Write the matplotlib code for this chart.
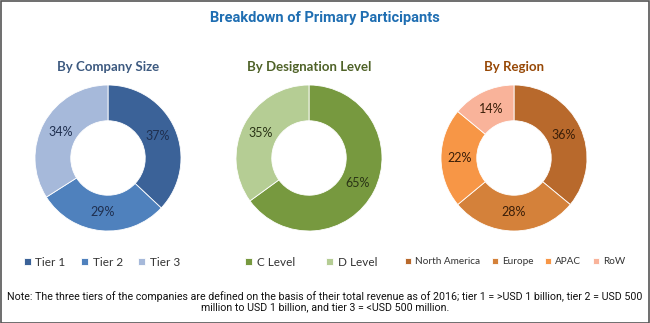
import numpy as np
import matplotlib.pyplot as plt
from matplotlib.patches import Rectangle

# data
size_labels = ['Tier 1', 'Tier 2', 'Tier 3']
size_values = [37, 29, 34]
size_colors = ['#3B6298', '#4F81BD', '#A6B9DA']

level_labels = ['C Level', 'D Level']
level_values = [65, 35]
level_colors = ['#77993F', '#B5CD94']

region_labels = ['North America', 'Europe', 'APAC', 'RoW']
region_values = [36, 28, 22, 14]
region_colors = ['#B8692C', '#D4813A', '#F79646', '#F9B39A']

W, H = 650, 323
fig = plt.figure(figsize=(W / 100, H / 100), dpi=100)
fig.patch.set_facecolor('white')

# thin border round the picture
fig.add_artist(Rectangle((0.5 / W, 0.5 / H), 1 - 1.5 / W, 1 - 1.5 / H,
                         transform=fig.transFigure, fill=False,
                         edgecolor='#555555', linewidth=1.2))

fig.text(0.5, 1 - 18 / H, 'Breakdown of Primary Participants',
         ha='center', va='center', fontsize=10.5, fontweight='bold',
         color='#1F6EB2', family='Roboto')

panels = [
    ('By Company Size', '#3D5A80', size_labels, size_values, size_colors, 108, '#1F2F4F'),
    ('By Designation Level', '#4F6228', level_labels, level_values, level_colors, 309, '#2A3316'),
    ('By Region', '#974806', region_labels, region_values, region_colors, 514, '#3A1E08'),
]
legend_x = [102, 311, 515]
legend_gap = [1.3, 2.6, 1.2]

R = 73
cy = 158
for (title, tcol, labels, values, colors, cx, lcol), lx, gap in zip(panels, legend_x, legend_gap):
    ax = fig.add_axes([(cx - R) / W, (H - cy - R) / H, 2 * R / W, 2 * R / H])
    wedges, _ = ax.pie(values, colors=colors, startangle=90, counterclock=False,
                       radius=1, wedgeprops=dict(width=0.49, edgecolor='white',
                                                 linewidth=0.6))
    total = sum(values)
    start = 90.0
    for v in values:
        mid = np.deg2rad(start - v / total * 360 / 2)
        ax.text(0.745 * np.cos(mid), 0.745 * np.sin(mid), f'{v}%',
                ha='center', va='center', fontsize=9, color=lcol,
                family='Lato')
        start -= v / total * 360
    ax.set_xlim(-1, 1)
    ax.set_ylim(-1, 1)
    ax.set_aspect('equal')
    ax.axis('off')

    fig.text(cx / W, 1 - 67 / H, title, ha='center', va='center',
             fontsize=9.5, fontweight='bold', color=tcol, family='Lato')

    fs = 8.5 if len(labels) < 4 else 7.2
    leg = fig.legend(wedges, labels, loc='center', ncol=len(labels),
                     bbox_to_anchor=(lx / W, 1 - 262 / H), frameon=False,
                     handlelength=0.6, handleheight=0.6,
                     handletextpad=0.4, columnspacing=gap,
                     prop=dict(family='Lato', size=fs))
    for t in leg.get_texts():
        t.set_color('#333333')

note = ('Note: The three tiers of the companies are defined on the basis of their total revenue as of 2016; '
        'tier 1 = >USD 1 billion, tier 2 = USD 500\nmillion to USD 1 billion, and tier 3 = <USD 500 million.')
fig.text(0.5, 1 - 302 / H, note, ha='center', va='center', fontsize=7.7,
         color='#111111', linespacing=1.05, family='Roboto')

fig.savefig('out.png', dpi=100, facecolor='white')
